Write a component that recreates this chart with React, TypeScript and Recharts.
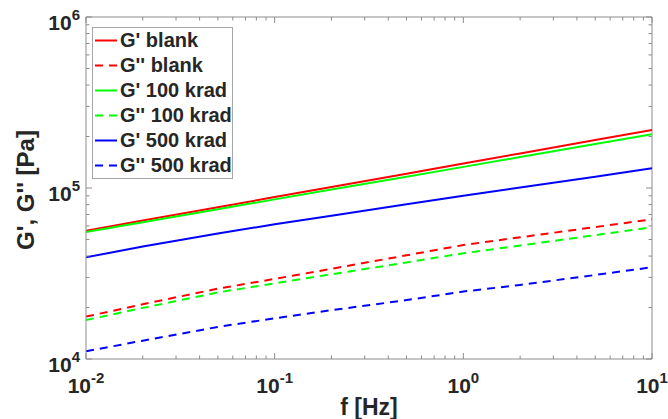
import { LineChart, Line, XAxis, YAxis, Legend, ReferenceLine } from "recharts";

// frequency [Hz]
const freq = [0.01, 0.02, 0.05, 0.1, 0.2, 0.5, 1, 2, 5, 10];

// moduli [Pa]
const gpBlank = [56300, 64500, 77200, 88500, 101300, 121200, 139100, 159300, 190600, 218400];
const gppBlank = [17700, 20900, 25800, 29400, 33700, 40400, 46400, 51500, 59100, 65600];
const gp100 = [55300, 63100, 75200, 85800, 97900, 116500, 132900, 151600, 180600, 206100];
const gpp100 = [16900, 19900, 24500, 27700, 31300, 36700, 41500, 46100, 53000, 58900];
const gp500 = [39300, 45500, 54200, 61300, 68900, 80300, 90200, 100700, 116300, 130400];
const gpp500 = [11100, 12800, 15400, 17300, 19300, 22100, 24800, 27100, 31000, 34400];

const xMajor = [0.01, 0.1, 1, 10];
const xMinor = [0.02, 0.03, 0.04, 0.05, 0.06, 0.07, 0.08, 0.09, 0.2, 0.3, 0.4, 0.5, 0.6, 0.7, 0.8, 0.9, 2, 3, 4, 5, 6, 7, 8, 9];
const yMajor = [1e4, 1e5, 1e6];
const yMinor = [2e4, 3e4, 4e4, 5e4, 6e4, 7e4, 8e4, 9e4, 2e5, 3e5, 4e5, 5e5, 6e5, 7e5, 8e5, 9e5];

const series = [
  { key: "gpBlank", name: "G' blank", values: gpBlank, color: "#ff0000", dash: undefined },
  { key: "gppBlank", name: "G'' blank", values: gppBlank, color: "#ff0000", dash: "8 6" },
  { key: "gp100", name: "G' 100 krad", values: gp100, color: "#00ff00", dash: undefined },
  { key: "gpp100", name: "G'' 100 krad", values: gpp100, color: "#00ff00", dash: "8 6" },
  { key: "gp500", name: "G' 500 krad", values: gp500, color: "#0000ff", dash: undefined },
  { key: "gpp500", name: "G'' 500 krad", values: gpp500, color: "#0000ff", dash: "8 6" },
];

const data = freq.map((f, i) => {
  const row: Record<string, number> = { f };
  for (const s of series) row[s.key] = s.values[i];
  return row;
});

const W = 668;
const H = 419;
const PLOT = { left: 86, right: 652, top: 17, bottom: 359 };
const AXIS = "#8c8c8c";
const TEXT = "#262626";
const FONT = "'Liberation Sans', Arial, sans-serif";

function XTick(props: any) {
  const { x, payload } = props;
  const v = payload.value;
  const major = xMajor.includes(v);
  const len = major ? 6 : 3.5;
  return (
    <g>
      <line x1={x} x2={x} y1={PLOT.bottom} y2={PLOT.bottom - len} stroke={AXIS} />
      <line x1={x} x2={x} y1={PLOT.top} y2={PLOT.top + len} stroke={AXIS} />
      {major && (
        <text x={x} y={PLOT.bottom + 34} textAnchor="middle" fill={TEXT} fontSize={21} fontWeight="bold" fontFamily={FONT}>
          10
          <tspan dy={-10} fontSize={15}>{Math.round(Math.log10(v))}</tspan>
        </text>
      )}
    </g>
  );
}

function YTick(props: any) {
  const { y, payload } = props;
  const v = payload.value;
  const major = yMajor.includes(v);
  const len = major ? 6 : 3.5;
  return (
    <g>
      <line x1={PLOT.left} x2={PLOT.left + len} y1={y} y2={y} stroke={AXIS} />
      <line x1={PLOT.right} x2={PLOT.right - len} y1={y} y2={y} stroke={AXIS} />
      {major && (
        <text x={80} y={y + 13} textAnchor="end" fill={TEXT} fontSize={21} fontWeight="bold" fontFamily={FONT}>
          10
          <tspan dy={-10} fontSize={15}>{Math.round(Math.log10(v))}</tspan>
        </text>
      )}
    </g>
  );
}

function LegendBox() {
  return (
    <div style={{ border: "1px solid #a6a6a6", background: "#fff", width: 139, fontFamily: FONT }}>
      {series.map((s) => (
        <div key={s.key} style={{ height: 25, display: "flex", alignItems: "center" }}>
          <svg width={27} height={25}>
            <line x1={2} x2={24} y1={12.5} y2={12.5} stroke={s.color} strokeWidth={2} strokeDasharray={s.dash} />
          </svg>
          <span style={{ fontSize: 20, fontWeight: "bold", color: TEXT, whiteSpace: "nowrap" }}>{s.name}</span>
        </div>
      ))}
    </div>
  );
}

export default function App() {
  return (
    <div style={{ position: "absolute", left: 0, top: 0, width: W, height: H, background: "#fff" }}>
      <LineChart
        width={W}
        height={H}
        data={data}
        margin={{ top: PLOT.top, right: W - PLOT.right, left: 0, bottom: 0 }}
        style={{ fontFamily: FONT }}
      >
        <XAxis
          dataKey="f"
          type="number"
          scale="log"
          domain={[0.01, 10]}
          ticks={[...xMajor, ...xMinor]}
          interval={0}
          allowDataOverflow
          height={H - PLOT.bottom}
          axisLine={{ stroke: AXIS }}
          tickLine={false}
          tick={XTick}
          label={() => (
            <text x={(PLOT.left + PLOT.right) / 2} y={415} textAnchor="middle" fill={TEXT} fontSize={23} fontWeight="bold" fontFamily={FONT}>
              f [Hz]
            </text>
          )}
        />
        <YAxis
          type="number"
          scale="log"
          domain={[1e4, 1e6]}
          ticks={[...yMajor, ...yMinor]}
          interval={0}
          allowDataOverflow
          width={PLOT.left}
          axisLine={{ stroke: AXIS }}
          tickLine={false}
          tick={YTick}
          label={() => (
            <text
              x={34}
              y={190}
              transform="rotate(-90 34 190)"
              textAnchor="middle"
              fill={TEXT}
              fontSize={24}
              fontWeight="bold"
              fontFamily={FONT}
            >
              G', G'' [Pa]
            </text>
          )}
        />
        <ReferenceLine y={1e6} stroke={AXIS} />
        <ReferenceLine x={10} stroke={AXIS} />
        {series.map((s) => (
          <Line
            key={s.key}
            dataKey={s.key}
            name={s.name}
            type="linear"
            stroke={s.color}
            strokeWidth={2}
            strokeDasharray={s.dash}
            dot={false}
            activeDot={false}
            isAnimationActive={false}
          />
        ))}
        <Legend
          layout="vertical"
          align="center"
          verticalAlign="middle"
          content={() => <LegendBox />}
          wrapperStyle={{ left: 92, top: 27, width: "auto" }}
        />
      </LineChart>
    </div>
  );
}
